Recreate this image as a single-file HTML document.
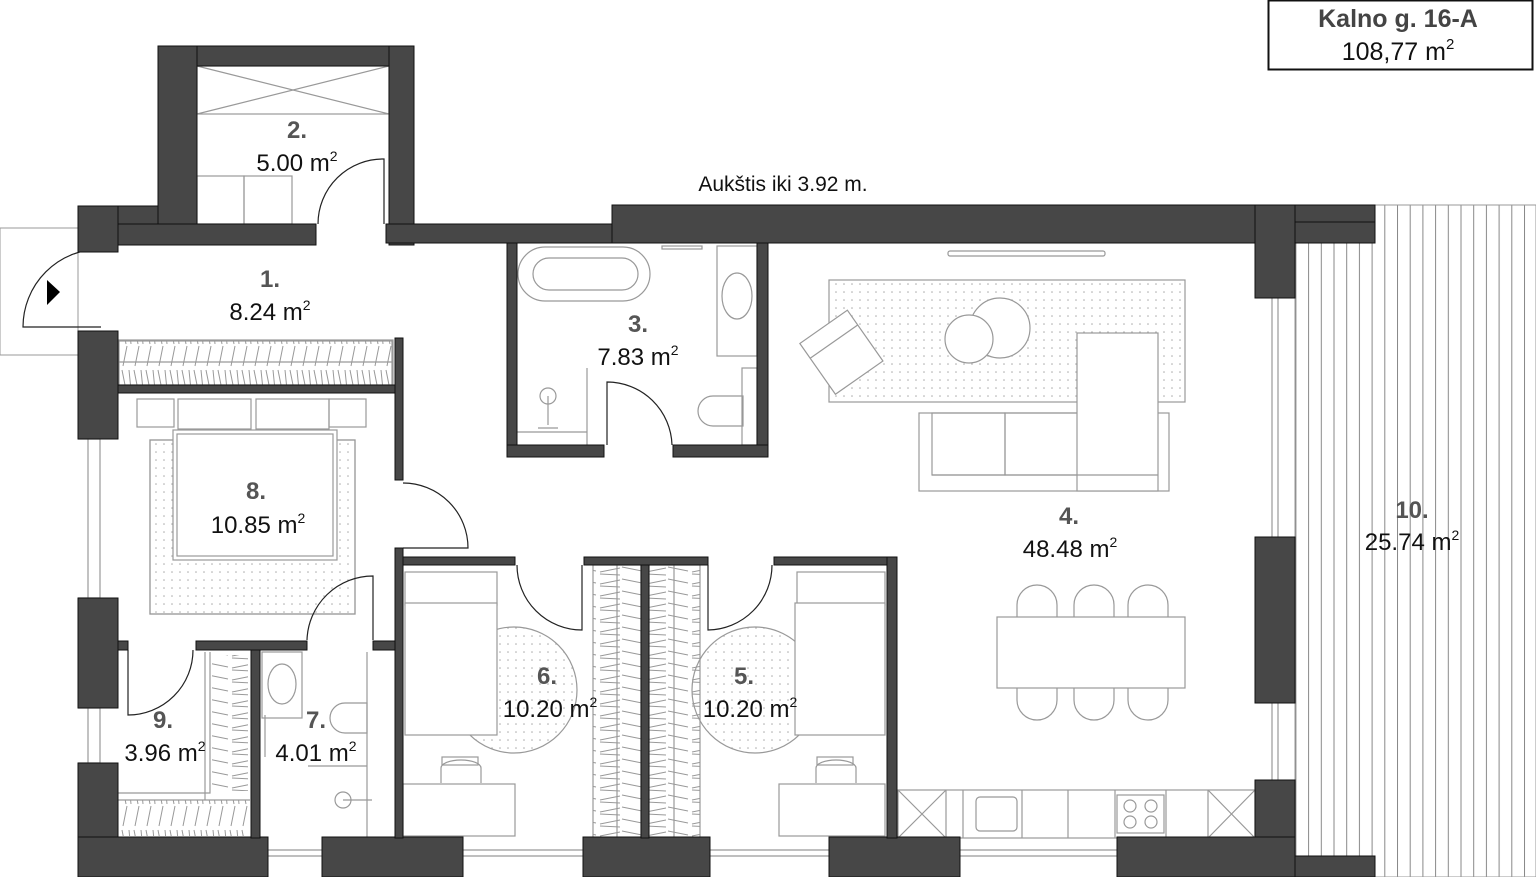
<!DOCTYPE html>
<html><head><meta charset="utf-8"><style>
html,body{margin:0;padding:0;background:#fff;}
svg{display:block;}
text{font-family:"Liberation Sans Narrow","Liberation Sans",Arial,sans-serif;}
</style></head><body>
<svg width="1536" height="877" viewBox="0 0 1536 877" xmlns="http://www.w3.org/2000/svg">
<defs>
<pattern id="dots" width="8" height="8" patternUnits="userSpaceOnUse"><circle cx="4" cy="4" r="0.8" fill="#aaa"/></pattern>
<pattern id="planks" width="12.7" height="10" patternUnits="userSpaceOnUse"><line x1="0.5" y1="0" x2="0.5" y2="10" stroke="#888" stroke-width="1"/></pattern>
<pattern id="hz" width="12" height="46" patternUnits="userSpaceOnUse"><path d="M2 2 L6 22 M7 24 L3 44 M9 2 L11 22" stroke="#999" stroke-width="1" fill="none"/></pattern>
<pattern id="vt" width="46" height="12" patternUnits="userSpaceOnUse"><path d="M2 8 L22 4 M24 3 L44 7 M2 10 L22 11" stroke="#999" stroke-width="1" fill="none"/></pattern>
</defs>

<!-- terrace -->
<rect x="1295" y="205" width="241" height="672" fill="url(#planks)" stroke="#999"/>

<g fill="#fff" stroke="#999" stroke-width="1">
<!-- entry outside -->
<rect x="0" y="228" width="78" height="127"/>
</g>

<!-- furniture / fixtures (light grey) -->
<g fill="none" stroke="#999" stroke-width="1.2">
<!-- room 2 -->
<rect x="197" y="66" width="192" height="48"/>
<path d="M197 66 L389 114 M389 66 L197 114"/>
<rect x="197" y="176" width="47" height="48"/><rect x="244" y="176" width="48" height="48"/>
<!-- corridor wardrobe -->
<rect x="118" y="340" width="275" height="46"/>
<rect x="119" y="341" width="273" height="44" fill="url(#hz)"/>
<line x1="118" y1="362" x2="393" y2="362"/>
<!-- bathroom 3 -->
<rect x="518" y="247" width="132" height="54" rx="27"/>
<rect x="533" y="258" width="105" height="32" rx="16"/>
<rect x="717" y="246" width="40" height="110"/>
<ellipse cx="737" cy="296" rx="15" ry="23"/>
<rect x="742" y="368" width="15" height="77"/>
<path d="M743 396 h-30 a15 15 0 0 0 0 30 h30 z"/>
<line x1="587" y1="368" x2="587" y2="445"/>
<line x1="517" y1="432" x2="587" y2="432"/>
<circle cx="548" cy="396" r="8"/>
<path d="M548 396 L548 425 M538 428 h20"/>
<rect x="662" y="246" width="40" height="3"/>
<!-- bedroom 8 -->
<rect x="150" y="440" width="205" height="174" fill="url(#dots)"/>
<rect x="150" y="440" width="205" height="174"/>
<rect x="137" y="399" width="37" height="28"/><rect x="329" y="399" width="37" height="28"/>
<rect x="178" y="399" width="73" height="30"/><rect x="256" y="399" width="73" height="30"/>
<rect x="173" y="430" width="164" height="130" fill="#fff"/>
<rect x="177" y="434" width="156" height="122"/>
<!-- room 9 wardrobe -->
<path d="M118 793 H210 V652" />
<path d="M118 800 H250 M205 652 V800"/>
<rect x="212" y="655" width="36" height="136" fill="url(#vt)" stroke="none"/>
<rect x="120" y="800" width="128" height="36" fill="url(#hz)" stroke="none"/>
<!-- room 7 -->
<rect x="262" y="652" width="40" height="66"/>
<ellipse cx="282" cy="684" rx="14" ry="20"/>
<line x1="265" y1="715" x2="265" y2="757"/>
<path d="M367 703 h-22 a15 15 0 0 0 0 30 h22 z"/>
<line x1="367" y1="652" x2="367" y2="838"/>
<line x1="308" y1="766" x2="367" y2="766"/>
<circle cx="343" cy="800" r="8"/><path d="M343 800 H372"/>
<!-- room 6 -->
<circle cx="514" cy="690" r="63" fill="url(#dots)"/>
<rect x="405" y="572" width="92" height="33" fill="#fff"/>
<rect x="405" y="603" width="92" height="132" fill="#fff"/>
<rect x="403" y="784" width="112" height="52" fill="#fff"/>
<path d="M441 783 V768 a20 8 0 0 1 40 0 V783"/>
<rect x="442" y="757" width="36" height="8"/>
<!-- wardrobes -->
<rect x="593" y="565" width="48" height="273" fill="url(#vt)"/>
<rect x="649" y="565" width="51" height="273" fill="url(#vt)"/>
<line x1="617" y1="565" x2="617" y2="838"/><line x1="674" y1="565" x2="674" y2="838"/>
<!-- room 5 -->
<circle cx="755" cy="690" r="63" fill="url(#dots)"/>
<rect x="797" y="572" width="88" height="33" fill="#fff"/>
<rect x="795" y="603" width="90" height="132" fill="#fff"/>
<rect x="779" y="784" width="106" height="52" fill="#fff"/>
<path d="M816 783 V768 a20 8 0 0 1 40 0 V783"/>
<rect x="817" y="757" width="36" height="8"/>
<!-- living -->
<rect x="829" y="280" width="356" height="122" fill="url(#dots)"/>
<rect x="948" y="251" width="157" height="5" rx="2"/>
<circle cx="1000" cy="328" r="30" fill="#fff"/>
<circle cx="969" cy="339" r="24" fill="#fff"/>
<g transform="rotate(-35 840 352)"><rect x="812" y="322" width="58" height="62" fill="#fff"/><line x1="812" y1="340" x2="870" y2="340"/></g>
<rect x="919" y="413" width="250" height="78" fill="#fff"/>
<rect x="932" y="413" width="73" height="62"/><rect x="1005" y="413" width="73" height="62"/>
<rect x="1077" y="333" width="81" height="158" fill="#fff"/>
<line x1="932" y1="475" x2="1158" y2="475"/>
<!-- dining -->
<g fill="#fff">
<rect x="1017" y="585" width="40" height="55" rx="20"/><rect x="1074" y="585" width="40" height="55" rx="20"/><rect x="1128" y="585" width="40" height="55" rx="20"/>
<rect x="1017" y="665" width="40" height="55" rx="20"/><rect x="1074" y="665" width="40" height="55" rx="20"/><rect x="1128" y="665" width="40" height="55" rx="20"/>
<rect x="997" y="617" width="188" height="71"/>
</g>
<!-- kitchen -->
<rect x="898" y="790" width="357" height="48"/>
<path d="M898 790 L946 838 M946 790 L898 838 M946 790 V838 M963 790 V838 M1022 790 V838 M1068 790 V838 M1115 790 V838 M1166 790 V838 M1208 790 V838 M1208 790 L1255 838 M1255 790 L1208 838"/>
<rect x="976" y="797" width="41" height="34" rx="4"/>
<rect x="1117" y="795" width="47" height="38"/>
<circle cx="1130" cy="806" r="6"/><circle cx="1151" cy="806" r="6"/><circle cx="1130" cy="822" r="6"/><circle cx="1151" cy="822" r="6"/>
<!-- windows -->
<path d="M78 439 H100 V598 H78 M88 439 V598 M78 708 H100 V763 H78 M88 708 V763"/>
<path d="M268 850 H322 M268 856 H322 M463 850 H583 M463 856 H583 M710 850 H829 M710 856 H829 M960 850 H1117 M960 856 H1117"/>
<path d="M1272 298 V537 M1278 298 V537 M1272 703 V780 M1278 703 V780"/>
</g>

<!-- doors -->
<g fill="none" stroke="#222" stroke-width="1.2">
<path d="M101 249 A78 78 0 0 0 23 327 H101"/>
<path d="M384 224 V159 A65 65 0 0 0 318 224"/>
<path d="M607 445 V382 A65 65 0 0 1 672 445"/>
<path d="M403 548 H468 A65 65 0 0 0 403 483"/>
<path d="M128 650 V715 A65 65 0 0 0 193 650"/>
<path d="M373 640 V576 A66 66 0 0 0 307 640"/>
<path d="M517 565 A65 65 0 0 0 582 630 V565"/>
<path d="M772 565 A65 65 0 0 1 708 630 V565"/>
</g>
<polygon points="47,280 60,292 47,305" fill="#000"/>

<!-- walls -->
<g fill="#474747" stroke="#111" stroke-width="1">
<rect x="158" y="46" width="256" height="20"/>
<rect x="158" y="46" width="39" height="199"/>
<rect x="389" y="46" width="25" height="199"/>
<rect x="78" y="206" width="80" height="39"/>
<rect x="78" y="206" width="40" height="46"/>
<rect x="118" y="224" width="198" height="21"/>
<rect x="386" y="224" width="226" height="19"/>
<rect x="612" y="205" width="763" height="38"/>
<rect x="1255" y="205" width="40" height="93"/>
<rect x="1295" y="205" width="80" height="17"/>
<rect x="1255" y="537" width="40" height="166"/>
<rect x="1255" y="780" width="40" height="97"/>
<rect x="1295" y="856" width="80" height="21"/>
<rect x="78" y="331" width="40" height="108"/>
<rect x="78" y="598" width="40" height="110"/>
<rect x="78" y="763" width="40" height="114"/>
<rect x="78" y="837" width="190" height="40"/>
<rect x="322" y="837" width="141" height="40"/>
<rect x="583" y="837" width="127" height="40"/>
<rect x="829" y="837" width="131" height="40"/>
<rect x="1117" y="837" width="178" height="40"/>
<rect x="118" y="385" width="285" height="8"/>
<rect x="395" y="338" width="8" height="142"/>
<rect x="395" y="548" width="8" height="290"/>
<rect x="118" y="641" width="10" height="9"/>
<rect x="196" y="641" width="111" height="9"/>
<rect x="373" y="641" width="22" height="9"/>
<rect x="251" y="650" width="9" height="188"/>
<rect x="403" y="557" width="112" height="8"/>
<rect x="584" y="557" width="124" height="8"/>
<rect x="641" y="565" width="8" height="273"/>
<rect x="774" y="557" width="123" height="8"/>
<rect x="887" y="557" width="10" height="281"/>
<rect x="507" y="243" width="10" height="214"/>
<rect x="757" y="243" width="11" height="214"/>
<rect x="507" y="445" width="97" height="12"/>
<rect x="673" y="445" width="95" height="12"/>
</g>

<!-- labels -->
<g text-anchor="middle" font-size="24">
<g font-weight="bold" fill="#555">
<text x="297" y="138">2.</text>
<text x="270" y="287">1.</text>
<text x="638" y="332">3.</text>
<text x="256" y="499">8.</text>
<text x="1069" y="524">4.</text>
<text x="1412" y="518">10.</text>
<text x="547" y="684">6.</text>
<text x="744" y="684">5.</text>
<text x="163" y="728">9.</text>
<text x="316" y="728">7.</text>
</g>
<g fill="#111">
<text x="297" y="171">5.00 m<tspan font-size="14" dy="-10">2</tspan></text>
<text x="270" y="320">8.24 m<tspan font-size="14" dy="-10">2</tspan></text>
<text x="638" y="365">7.83 m<tspan font-size="14" dy="-10">2</tspan></text>
<text x="258" y="533">10.85 m<tspan font-size="14" dy="-10">2</tspan></text>
<text x="1070" y="557">48.48 m<tspan font-size="14" dy="-10">2</tspan></text>
<text x="1412" y="550">25.74 m<tspan font-size="14" dy="-10">2</tspan></text>
<text x="550" y="717">10.20 m<tspan font-size="14" dy="-10">2</tspan></text>
<text x="750" y="717">10.20 m<tspan font-size="14" dy="-10">2</tspan></text>
<text x="165" y="761">3.96 m<tspan font-size="14" dy="-10">2</tspan></text>
<text x="316" y="761">4.01 m<tspan font-size="14" dy="-10">2</tspan></text>
<text x="783" y="191" font-size="21">Aukštis iki 3.92 m.</text>
</g>
</g>

<rect x="1268.5" y="0.5" width="264" height="69" fill="none" stroke="#111" stroke-width="2"/>
<text x="1398" y="27" text-anchor="middle" font-size="25" font-weight="bold" fill="#444">Kalno g. 16-A</text>
<text x="1398" y="60" text-anchor="middle" font-size="25" fill="#111">108,77 m<tspan font-size="15" dy="-11">2</tspan></text>
</svg>
</body></html>
